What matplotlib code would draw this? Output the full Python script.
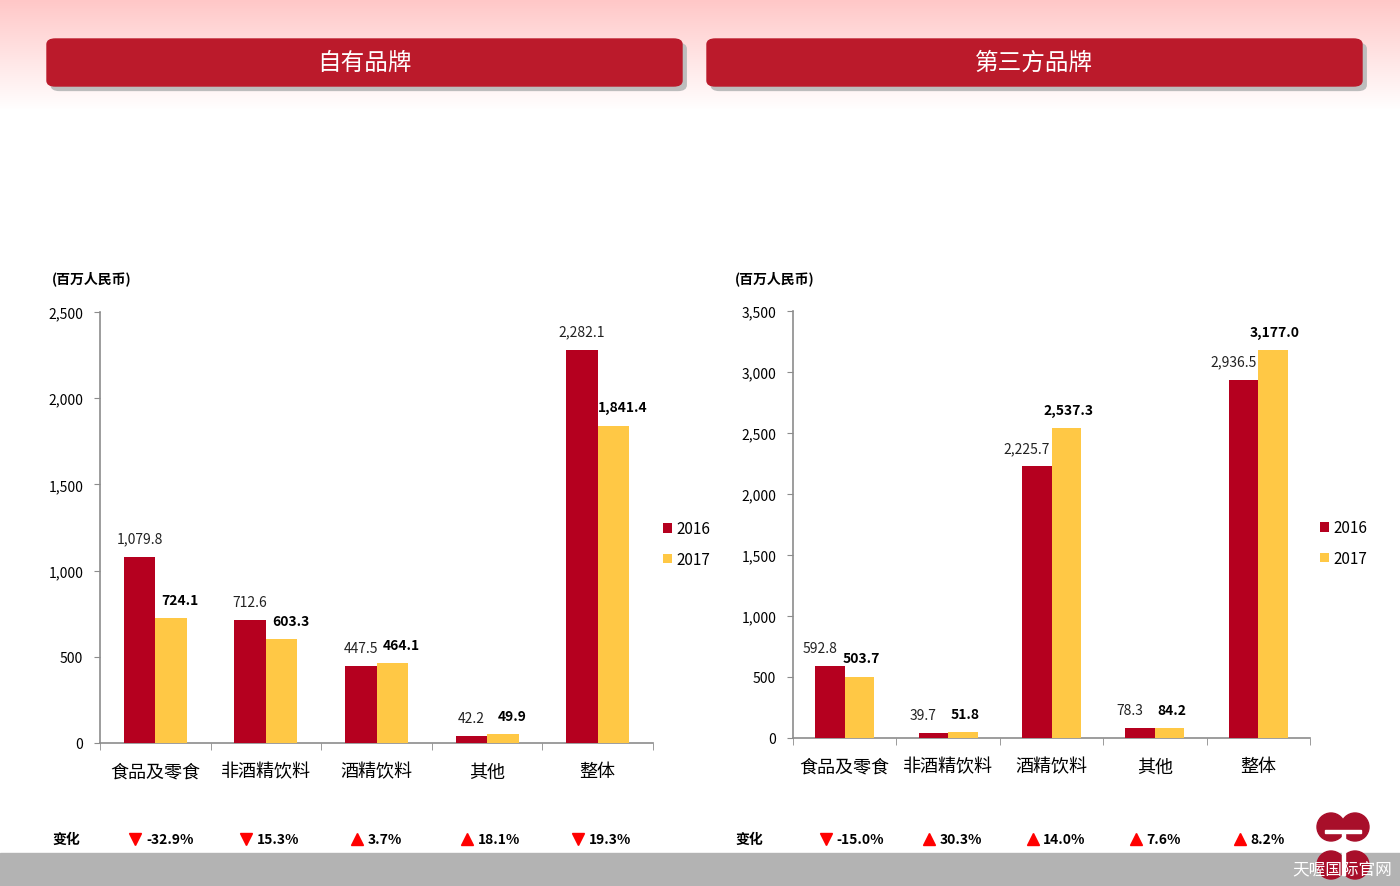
import numpy as np
import matplotlib
matplotlib.use('Agg')
import matplotlib.pyplot as plt
from matplotlib import transforms
from matplotlib.patches import FancyBboxPatch, Ellipse

plt.rcParams['font.family'] = ['Noto Sans CJK SC', 'DejaVu Sans']

categories = ['食品及零食', '非酒精饮料', '酒精饮料', '其他', '整体']
years = ['2016', '2017']

own_2016 = [1079.8, 712.6, 447.5, 42.2, 2282.1]
own_2017 = [724.1, 603.3, 464.1, 49.9, 1841.4]
own_change = ['-32.9%', '15.3%', '3.7%', '18.1%', '19.3%']
own_dir = ['down', 'down', 'up', 'up', 'down']

third_2016 = [592.8, 39.7, 2225.7, 78.3, 2936.5]
third_2017 = [503.7, 51.8, 2537.3, 84.2, 3177.0]
third_change = ['-15.0%', '30.3%', '14.0%', '7.6%', '8.2%']
third_dir = ['down', 'up', 'up', 'up', 'up']

red = '#B5001F'
yellow = '#FFC845'
banner = '#BB1A2B'
axis_grey = '#8C8C8C'

fig = plt.figure(figsize=(14, 8.87), dpi=100)

# pink fade at the top
bg = fig.add_axes([0, 0, 1, 1], zorder=-10)
grad = np.ones((887, 1, 4))
fade = np.clip(1 - np.arange(887) / 110.0, 0, 1)
grad[:, 0, 1] = 1 - 0.22 * fade
grad[:, 0, 2] = 1 - 0.22 * fade
bg.imshow(grad, aspect='auto', extent=[0, 1, 0, 1])
bg.axis('off')
# grey footer strip
bg.add_patch(plt.Rectangle((0, 0), 1, 33 / 887, color='#B3B3B3', transform=bg.transAxes))


def header(x0, x1, label):
    y0 = 1 - 87 / 887
    h = 47 / 887
    sh = FancyBboxPatch((x0 / 1400 + 0.003, y0 - 0.005), (x1 - x0) / 1400, h,
                        boxstyle='round,pad=0,rounding_size=0.006',
                        transform=fig.transFigure, color='#BDBDBD', zorder=1)
    fig.patches.append(sh)
    p = FancyBboxPatch((x0 / 1400, y0), (x1 - x0) / 1400, h,
                       boxstyle='round,pad=0,rounding_size=0.006',
                       transform=fig.transFigure, color=banner, zorder=2)
    fig.patches.append(p)
    fig.text((x0 + x1) / 2 / 1400, y0 + h / 2, label, color='white', fontsize=17,
             ha='center', va='center', zorder=3)


header(47, 682, '自有品牌')
header(707, 1362, '第三方品牌')


def draw(rect, v16, v17, ymax, step, changes, dirs, unit_x, leg_xy, lab_off):
    ax = fig.add_axes(rect)
    x = np.arange(len(categories))
    w = 0.285
    ax.bar(x - w / 2, v16, w, color=red, label=years[0], zorder=3)
    ax.bar(x + w / 2, v17, w, color=yellow, label=years[1], zorder=3)
    for i in range(len(x)):
        ax.annotate(f'{v16[i]:,.1f}', (x[i] - w / 2 + lab_off[0], v16[i]), xytext=(0, 8),
                    textcoords='offset points', ha='center', va='bottom',
                    fontsize=10, color='#222222')
        ax.annotate(f'{v17[i]:,.1f}', (x[i] + w / 2 + lab_off[1], v17[i]), xytext=(0, 8),
                    textcoords='offset points', ha='center', va='bottom',
                    fontsize=10, fontweight='bold', color='black')
    ax.set_xlim(-0.5, len(x) - 0.5)
    ax.set_ylim(0, ymax)
    ax.set_yticks(np.arange(0, ymax + 1, step))
    ax.set_yticklabels([f'{int(t):,}' for t in np.arange(0, ymax + 1, step)], fontsize=10)
    ax.set_xticks(x)
    ax.set_xticklabels(categories, fontsize=13)
    ax.set_xticks(np.arange(-0.5, len(x), 1), minor=True)
    ax.tick_params(axis='x', which='major', length=0, pad=14)
    ax.tick_params(axis='x', which='minor', length=5, color=axis_grey, direction='out')
    ax.tick_params(axis='y', length=4, color=axis_grey, pad=8)
    for s in ['top', 'right']:
        ax.spines[s].set_visible(False)
    for s in ['left', 'bottom']:
        ax.spines[s].set_color(axis_grey)
        ax.spines[s].set_linewidth(1.2)
    ax.legend(loc='center left', bbox_to_anchor=leg_xy, bbox_transform=fig.transFigure,
              frameon=False, fontsize=11, handlelength=0.6, handleheight=0.6,
              handletextpad=0.3, labelspacing=0.9)
    fig.text(unit_x / 1400, 1 - 279 / 887, '(百万人民币)', fontsize=10, fontweight='bold',
             va='center', ha='left')
    fig.text(unit_x / 1400, 1 - 840 / 887, '变化', fontsize=10, fontweight='bold',
             va='center', ha='left')
    tr = transforms.blended_transform_factory(ax.transData, fig.transFigure)
    ychg = 1 - 840 / 887
    for i in range(len(x)):
        ax.plot([x[i] - 0.18], [ychg], marker='v' if dirs[i] == 'down' else '^',
                color='#FF0000', markersize=9, transform=tr, clip_on=False)
        ax.text(x[i] - 0.08, ychg, changes[i], transform=tr, fontsize=10,
                fontweight='bold', ha='left', va='center', clip_on=False)
    return ax


draw([100 / 1400, 143 / 887, 553 / 1400, 431 / 887], own_2016, own_2017, 2500, 500,
     own_change, own_dir, 52, (649 / 1400, 1 - 545 / 887), (0.0, 0.08))
draw([793 / 1400, 148 / 887, 517 / 1400, 427 / 887], third_2016, third_2017, 3500, 500,
     third_change, third_dir, 735, (1306 / 1400, 1 - 544 / 887), (-0.1, 0.02))

# logo + watermark in the footer
for cx, cy in [(1331, 828), (1355, 828), (1331, 866), (1355, 866)]:
    fig.patches.append(Ellipse((cx / 1400, 1 - cy / 887), 28 / 1400, 28 / 887,
                               transform=fig.transFigure, color='#A80F2A', zorder=4))
fig.patches.append(plt.Rectangle((1325 / 1400, 1 - 834 / 887), 36 / 1400, 3 / 887,
                                 transform=fig.transFigure, color='white', zorder=4.5))
fig.patches.append(plt.Rectangle((1341.5 / 1400, 1 - 876 / 887), 3 / 1400, 42 / 887,
                                 transform=fig.transFigure, color='white', zorder=4.5))
fig.text(1392 / 1400, 1 - 871 / 887, '天喔国际官网', color='white', fontsize=12,
         ha='right', va='center', zorder=5)

fig.savefig('out.png', dpi=100)
